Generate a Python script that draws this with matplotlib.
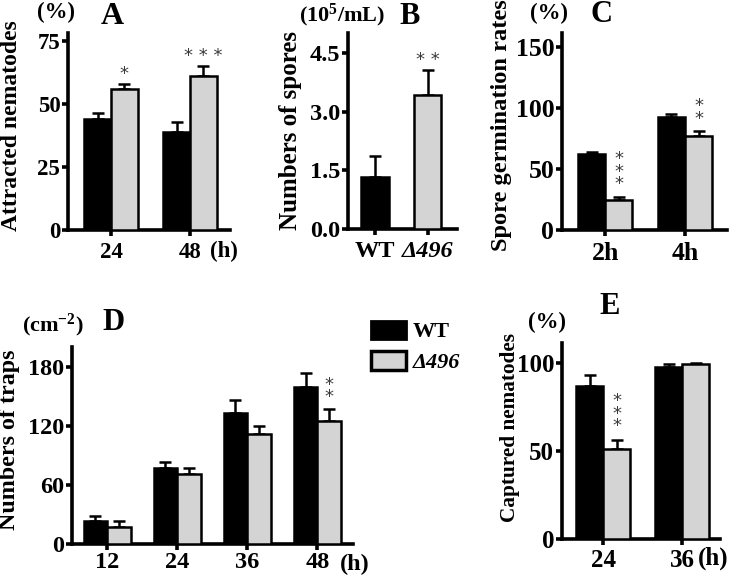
import matplotlib
matplotlib.use("Agg")
import matplotlib.pyplot as plt
from matplotlib.patches import Patch
import numpy as np

plt.rcParams['font.family'] = ['Liberation Serif', 'DejaVu Serif']
plt.rcParams['font.weight'] = 'bold'
plt.rcParams['mathtext.fontset'] = 'custom'
plt.rcParams['mathtext.rm'] = 'Liberation Serif:bold'
plt.rcParams['mathtext.it'] = 'Liberation Serif:bold:italic'
plt.rcParams['mathtext.bf'] = 'Liberation Serif:bold'

# ---------------- data ----------------
series = ["WT", "Δ496"]

A_cats = ["24", "48"]
A_wt = [44, 39]
A_wt_err = [2.5, 4]
A_mut = [56, 61]
A_mut_err = [2, 4]
A_sig = ["*", "* * *"]

B_cats = ["WT", "Δ496"]
B_vals = [1.33, 3.43]
B_err = [0.54, 0.64]
B_sig = ["", "* *"]

C_cats = ["2h", "4h"]
C_wt = [62, 92.5]
C_wt_err = [2, 3]
C_mut = [24.5, 77]
C_mut_err = [2.5, 4]
C_sig = ["*\n*\n*", "*\n*"]

D_cats = ["12", "24", "36", "48"]
D_wt = [23, 77, 133, 160]
D_wt_err = [5, 6, 13, 14]
D_mut = [17, 71, 112, 125]
D_mut_err = [6, 6, 8, 12]
D_sig = ["", "", "", "*\n*"]

E_cats = ["24", "36"]
E_wt = [87, 98]
E_wt_err = [6, 1.5]
E_mut = [51, 99.5]
E_mut_err = [5, 0.8]
E_sig = ["*\n*\n*", ""]

WT_COLOR = "black"
MUT_COLOR = "#d4d4d4"
SIG_COLOR = "#3a3a3a"

W, H = 733, 576
fig = plt.figure(figsize=(W / 100, H / 100), dpi=100)


def px_axes(x0, x1, y_bottom, y_top):
    return fig.add_axes([x0 / W, (H - y_bottom) / H, (x1 - x0) / W, (y_bottom - y_top) / H])


def style(ax, ylim, yticks, xlim, cats, ticks, fs, xpad=4):
    for s in ["top", "right"]:
        ax.spines[s].set_visible(False)
    for s in ["left", "bottom"]:
        ax.spines[s].set_linewidth(2.6)
    ax.set_ylim(*ylim)
    ax.set_xlim(*xlim)
    ax.set_yticks(yticks)
    ax.set_xticks(ticks)
    ax.set_xticklabels(cats)
    ax.tick_params(axis="both", width=2.6, length=4.5, labelsize=fs)
    ax.tick_params(axis="y", pad=1)
    ax.tick_params(axis="x", pad=xpad)
    for lab in ax.get_xticklabels() + ax.get_yticklabels():
        lab.set_fontweight("bold")


def sig_text(ax, x, y, s, stacked):
    if stacked:
        ax.text(x, y, s, ha="center", va="bottom", fontsize=13, color=SIG_COLOR,
                fontweight="normal", family="DejaVu Sans", linespacing=0.62)
    else:
        ax.text(x, y, s, ha="center", va="bottom", fontsize=13, color=SIG_COLOR,
                fontweight="normal", family="DejaVu Sans")


def grouped(ax, wt, wte, mut, mute, sig, bw, sig_dy, stacked=False):
    x = np.arange(len(wt))
    ax.bar(x - bw / 2, wt, bw, color=WT_COLOR, edgecolor="black", linewidth=1.8, zorder=3)
    ax.bar(x + bw / 2, mut, bw, color=MUT_COLOR, edgecolor="black", linewidth=1.8, zorder=3)
    ax.errorbar(x - bw / 2, wt, yerr=[np.zeros(len(wt)), wte], fmt="none", ecolor="black",
                elinewidth=1.8, capsize=4.5, capthick=1.8, zorder=2)
    ax.errorbar(x + bw / 2, mut, yerr=[np.zeros(len(mut)), mute], fmt="none", ecolor="black",
                elinewidth=1.8, capsize=4.5, capthick=1.8, zorder=2)
    for i, s in enumerate(sig):
        if s:
            sig_text(ax, x[i] + bw / 2, mut[i] + mute[i] + sig_dy, s, stacked)


def fig_text(x, y, s, size=16, **kw):
    fig.text(x / W, (H - y) / H, s, fontsize=size, fontweight="bold", ha="center", va="center", **kw)


# ---------------- Panel A ----------------
axA = px_axes(68, 230, 230, 33)
grouped(axA, A_wt, A_wt_err, A_mut, A_mut_err, A_sig, 0.34, 0.3)
style(axA, (0, 78.2), [0, 25, 50, 75], (-0.544, 1.506), A_cats, [0, 1], 16.5)
fig_text(12, 126, "Attracted nematodes", size=17, rotation=90)
fig_text(56, 12, "(%)", size=16.5)
fig_text(112, 16, "A", size=23)
fig_text(224, 251, "(h)", size=16.5)

# ---------------- Panel B ----------------
axB = px_axes(348, 457, 229, 33)
xb = np.arange(len(B_vals))
axB.bar(xb, B_vals, 0.53, color=[WT_COLOR, MUT_COLOR], edgecolor="black", linewidth=1.8, zorder=3)
axB.errorbar(xb, B_vals, yerr=[np.zeros(len(B_vals)), B_err], fmt="none", ecolor="black",
             elinewidth=1.8, capsize=4.5, capthick=1.8, zorder=2)
for i, s in enumerate(B_sig):
    if s:
        sig_text(axB, xb[i], B_vals[i] + B_err[i] + 0.03, s, False)
style(axB, (0, 5.01), [0, 1.5, 3.0, 4.5], (-0.514, 1.56), B_cats, [0, 1], 17.5)
axB.set_yticklabels(["0.0", "1.5", "3.0", "4.5"])
axB.get_xticklabels()[1].set_fontstyle("italic")
fig_text(290, 130, "Numbers of spores", size=18, rotation=90)
fig_text(342, 15, r"(10$^{5}$/mL)", size=16)
fig_text(410, 17, "B", size=22)

# ---------------- Panel C ----------------
axC = px_axes(562, 727, 230, 33)
grouped(axC, C_wt, C_wt_err, C_mut, C_mut_err, C_sig, 0.34, 3, stacked=True)
style(axC, (0, 161.5), [0, 50, 100, 150], (-0.54, 1.525), C_cats, [0, 1], 18.5)
fig_text(502, 125, "Spore germination rates", size=17.6, rotation=90)
fig_text(549, 13, "(%)", size=16.5)
fig_text(601, 15, "C", size=22)

# ---------------- Panel D ----------------
axD = px_axes(72, 353, 544, 347)
grouped(axD, D_wt, D_wt_err, D_mut, D_mut_err, D_sig, 0.335, 3, stacked=True)
style(axD, (0, 200.3), [0, 60, 120, 180], (-0.5, 3.51), D_cats, [0, 1, 2, 3], 17.5, xpad=1.5)
fig_text(10, 440, "Numbers of traps", size=17.3, rotation=90)
fig_text(53, 325, r"(cm$^{-2}$)", size=16)
fig_text(114, 323, "D", size=22)
fig_text(355, 564, "(h)", size=17.5)

# ---------------- Panel E ----------------
axE = px_axes(562, 720, 539, 343)
grouped(axE, E_wt, E_wt_err, E_mut, E_mut_err, E_sig, 0.34, 3, stacked=True)
style(axE, (0, 111.4), [0, 50, 100], (-0.52, 1.48), E_cats, [0, 1], 18, xpad=3)
fig_text(510, 427, "Captured nematodes", size=15.3, rotation=90)
fig_text(547, 322, "(%)", size=16.5)
fig_text(610, 307, "E", size=22)
fig_text(713, 558, "(h)", size=18)

# ---------------- Legend ----------------
handles = [Patch(facecolor=WT_COLOR, edgecolor="black", linewidth=2),
           Patch(facecolor=MUT_COLOR, edgecolor="black", linewidth=2.5)]
leg = fig.legend(handles, series, loc="upper left",
                 bbox_to_anchor=(355 / W, (H - 305) / H), frameon=False, fontsize=16,
                 handlelength=1.6, handleheight=0.9, handletextpad=0.3, labelspacing=0.4,
                 borderpad=0.2)
for t in leg.get_texts():
    t.set_fontweight("bold")
leg.get_texts()[1].set_fontstyle("italic")

fig.savefig("out.png", dpi=100)
